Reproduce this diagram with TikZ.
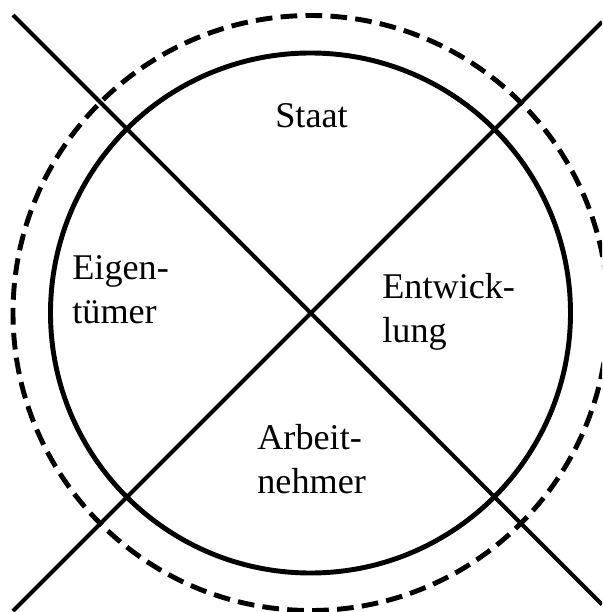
\documentclass[tikz,border=0pt]{standalone}
\usepackage{fontspec}
\setmainfont{Liberation Serif}
\begin{document}
\begin{tikzpicture}[x=0.02cm, y=-0.02cm,
    every node/.style={align=left, inner sep=0pt, font=\rmfamily\fontsize{20.6pt}{24.5pt}\selectfont}]
  \useasboundingbox (0,0) rectangle (602,612);
  \clip (0,0) rectangle (602,612);
  \coordinate (m) at (310.5,313);
  \coordinate (1) at (13,15);
  \coordinate (2) at (602,604.5);
  \coordinate (3) at (13,611);
  \coordinate (4) at (602,22);

  \draw[line width=2.8pt] (m) circle (260);
  \draw[line width=2.8pt, dash pattern=on 9.5pt off 4.7pt] (m) circle (297.5);
  \draw[line width=2.3pt] (1) -- (2);
  \draw[line width=2.3pt] (3) -- (4);

  \node[anchor=base] (staat) at (311.5,127) {Staat};
  \node[anchor=base west] (eigen) at (72,323) {Eigen-\\tümer};
  \node[anchor=base west] (entw) at (382,342) {Entwick-\\lung};
  \node[anchor=base west] (arb) at (257,493) {Arbeit-\\nehmer};
\end{tikzpicture}
\end{document}
